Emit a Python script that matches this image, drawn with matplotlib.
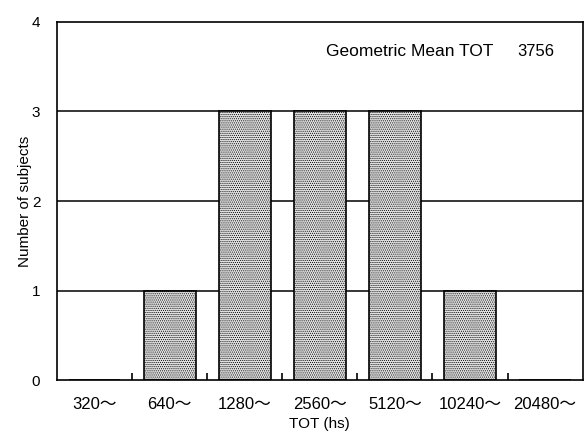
import matplotlib
matplotlib.use("Agg")
import matplotlib.pyplot as plt
import numpy as np

categories = ["320～", "640～", "1280～", "2560～", "5120～", "10240～", "20480～"]
counts = [0, 1, 3, 3, 3, 1, 0]
y_ticks = [0, 1, 2, 3, 4]

fam = ["Liberation Sans", "Noto Sans CJK JP", "DejaVu Sans"]
plt.rcParams['font.family'] = fam
plt.rcParams['hatch.linewidth'] = 0.5
plt.rcParams['hatch.color'] = '#8a8a8a'

fig = plt.figure(figsize=(5.84, 4.37), dpi=100)
ax = fig.add_axes([0.0976, 0.130, 0.900, 0.820])

x = np.arange(len(categories))
for yv in [1, 2, 3]:
    ax.axhline(yv, color='black', lw=1.1, zorder=1)
bars = ax.bar(x, counts, width=0.69, color='#e2e2e2', edgecolor='black',
              linewidth=1.2, hatch='........', zorder=2)

ax.set_xlim(-0.5, len(categories) - 0.5)
ax.set_ylim(0, 4)
ax.set_yticks(y_ticks)
ax.set_yticklabels([str(v) for v in y_ticks], fontsize=11)
ax.tick_params(axis='y', length=0, pad=12)

ax.set_xticks(x)
ax.set_xticklabels(categories, fontsize=12)
ax.tick_params(axis='x', which='major', length=0, pad=12)
ax.set_xticks(np.arange(0.5, len(categories) - 0.5, 1), minor=True)
ax.tick_params(axis='x', which='minor', direction='in', length=5, width=1.2)

for s in ax.spines.values():
    s.set_color('black')
    s.set_linewidth(1.2)

ax.set_xlabel("TOT (hs)", fontsize=11, labelpad=4)
ax.set_ylabel("Number of subjects", fontsize=11, labelpad=0)

ax.text(0.512, 0.916, "Geometric Mean TOT", transform=ax.transAxes,
        ha='left', va='center', fontsize=12.5)
ax.text(0.947, 0.916, "3756", transform=ax.transAxes,
        ha='right', va='center', fontsize=12)

fig.savefig("out.png", dpi=100)
